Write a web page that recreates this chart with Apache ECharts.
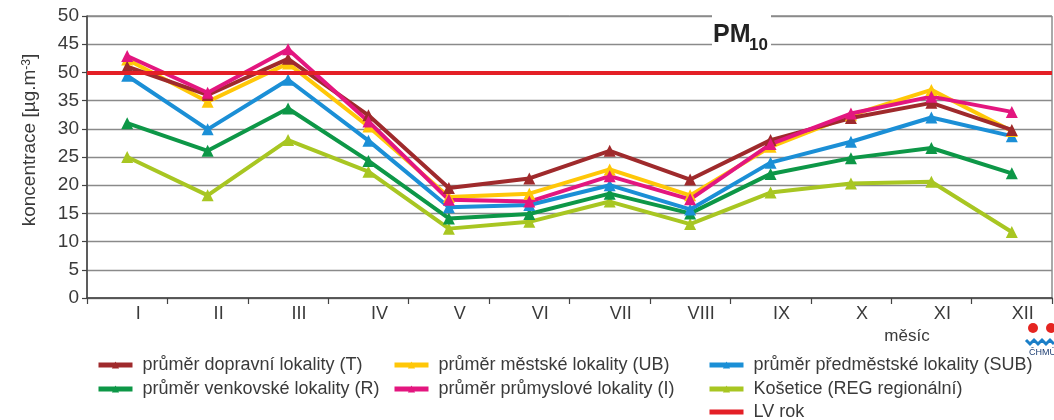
<!DOCTYPE html>
<html>
<head>
<meta charset="utf-8">
<script src="https://cdn.jsdelivr.net/npm/echarts@6/dist/echarts.min.js"></script>
<style>
  html, body { margin: 0; padding: 0; background: #fff; }
  #main { width: 1054px; height: 420px; }
</style>
</head>
<body>
<div id="main"></div>
<script>
// měsíce a popisky osy y (popisek u 40 je v originále "50")
const months = ['I', 'II', 'III', 'IV', 'V', 'VI', 'VII', 'VIII', 'IX', 'X', 'XI', 'XII'];
const yTickLabels = ['0', '5', '10', '15', '20', '25', '30', '35', '50', '45', '50'];

// průměrné měsíční koncentrace PM10 [µg.m-3]
const dopravni = [41.0, 36.0, 42.4, 32.4, 19.5, 21.2, 26.1, 21.0, 28.0, 31.9, 34.6, 29.8];
const mestske = [42.3, 34.8, 41.6, 30.4, 17.9, 18.5, 22.8, 18.2, 26.8, 32.4, 36.9, 29.6];
const predmestske = [39.4, 29.9, 38.7, 27.9, 16.1, 16.5, 20.0, 15.7, 24.0, 27.7, 32.0, 28.7];
const venkovske = [31.0, 26.1, 33.6, 24.3, 14.1, 14.9, 18.5, 15.0, 22.0, 24.8, 26.6, 22.1];
const prumyslove = [42.9, 36.4, 44.1, 31.3, 17.4, 17.1, 21.6, 17.5, 27.3, 32.7, 35.7, 33.0];
const kosetice = [25.0, 18.2, 28.0, 22.4, 12.3, 13.5, 17.1, 13.1, 18.7, 20.3, 20.6, 11.7];
const limitValue = 40; // LV rok

const FONT = "'Liberation Sans', Arial, sans-serif";
const TXT = '#3a3a3a';

let mkLine = (name, color, data) => ({
    name: name,
    type: 'line',
    data: data,
    symbol: 'triangle',
    symbolSize: 12,
    lineStyle: { width: 4, color: color },
    itemStyle: { color: color },
    emphasis: { disabled: true }
});

let mkLegend = (left, top, data) => ({
    left: left,
    top: top,
    data: data,
    orient: 'vertical',
    padding: 0,
    itemWidth: 34,
    itemHeight: 9,
    itemGap: 6,
    lineStyle: { width: 5 },
    textStyle: { fontFamily: FONT, fontSize: 18, color: TXT, padding: [0, 0, 0, 5] }
});

let myChart = echarts.init(document.getElementById('main'));
myChart.setOption({
    animation: false,
    grid: { left: 87, right: 2, top: 16, bottom: 122, show: true, borderColor: '#555', borderWidth: 1 },
    xAxis: {
        type: 'category',
        data: months,
        boundaryGap: true,
        axisLine: { lineStyle: { color: '#444', width: 1.5 } },
        axisTick: { show: true, length: 6, lineStyle: { color: '#444', width: 1.2 } },
        axisLabel: { fontFamily: FONT, fontSize: 18, color: TXT, margin: 7, padding: [0, 0, 0, 22] },
        splitLine: { show: false }
    },
    yAxis: {
        type: 'value',
        min: 0,
        max: 50,
        interval: 5,
        axisLine: { show: true, lineStyle: { color: '#444', width: 1.5 } },
        axisTick: { show: true, length: 5, lineStyle: { color: '#444', width: 1.2 } },
        axisLabel: {
            fontFamily: FONT, fontSize: 19, color: TXT, margin: 8,
            formatter: v => yTickLabels[Math.round(v / 5)]
        },
        splitLine: { lineStyle: { color: '#8a8a8a', width: 1.3 } }
    },
    legend: [
        mkLegend(96, 356, ['průměr dopravní lokality (T)', 'průměr venkovské lokality (R)']),
        mkLegend(392, 356, ['průměr městské lokality (UB)', 'průměr průmyslové lokality (I)']),
        mkLegend(707, 356, ['průměr předměstské lokality (SUB)', 'Košetice (REG regionální)']),
        mkLegend(707, 403, [{ name: 'LV rok', itemStyle: { opacity: 0 } }])
    ],
    series: [
        mkLine('Košetice (REG regionální)', '#a8c622', kosetice),
        mkLine('průměr venkovské lokality (R)', '#0d9747', venkovske),
        mkLine('průměr předměstské lokality (SUB)', '#1b8fd6', predmestske),
        mkLine('průměr městské lokality (UB)', '#ffc708', mestske),
        mkLine('průměr dopravní lokality (T)', '#9f2a2c', dopravni),
        mkLine('průměr průmyslové lokality (I)', '#e3167f', prumyslove),
        {
            name: 'LV rok',
            type: 'line',
            data: [],
            symbol: 'none',
            lineStyle: { width: 4, color: '#e41f26' },
            itemStyle: { color: '#e41f26' },
            z: 5,
            markLine: {
                silent: true,
                symbol: 'none',
                label: { show: false },
                lineStyle: { type: 'solid', width: 4, color: '#e41f26' },
                data: [{ yAxis: limitValue }]
            }
        }
    ],
    graphic: [
        {
            type: 'text', x: 30, y: 140, rotation: Math.PI / 2,
            style: {
                text: 'koncentrace [µg.m{sup|-3}]',
                fontFamily: FONT, fontSize: 19, fill: TXT,
                align: 'center', verticalAlign: 'middle',
                rich: { sup: { fontFamily: FONT, fontSize: 12, fill: TXT, verticalAlign: 'top' } }
            }
        },
        {
            type: 'text', x: 907, y: 336,
            style: { text: 'měsíc', fontFamily: FONT, fontSize: 17, fill: TXT, align: 'center', verticalAlign: 'middle' }
        },
        // PM10 v bílém rámečku
        { type: 'rect', shape: { x: 712, y: 15, width: 59, height: 45 }, style: { fill: '#fff' }, z: 10 },
        {
            type: 'text', x: 713, y: 35, z: 11,
            style: { text: 'PM', fontFamily: FONT, fontWeight: 'bold', fontSize: 25, fill: '#222', verticalAlign: 'middle' }
        },
        {
            type: 'text', x: 749, y: 45, z: 11,
            style: { text: '10', fontFamily: FONT, fontWeight: 'bold', fontSize: 17, fill: '#222', verticalAlign: 'middle' }
        },
        // logo ČHMÚ (oříznuté)
        { type: 'circle', shape: { cx: 1033, cy: 328, r: 5 }, style: { fill: '#e52521' } },
        { type: 'circle', shape: { cx: 1051, cy: 328, r: 5 }, style: { fill: '#e52521' } },
        {
            type: 'polyline',
            shape: { points: [[1026, 340], [1030, 344], [1034, 340], [1038, 344], [1042, 340], [1046, 344], [1050, 340], [1054, 344]] },
            style: { stroke: '#1b7fc8', lineWidth: 3, fill: null }
        },
        {
            type: 'text', x: 1029, y: 353,
            style: { text: 'ČHMÚ', fontFamily: FONT, fontSize: 9, fill: '#1f3f73', verticalAlign: 'middle' }
        }
    ]
});
</script>
</body>
</html>
